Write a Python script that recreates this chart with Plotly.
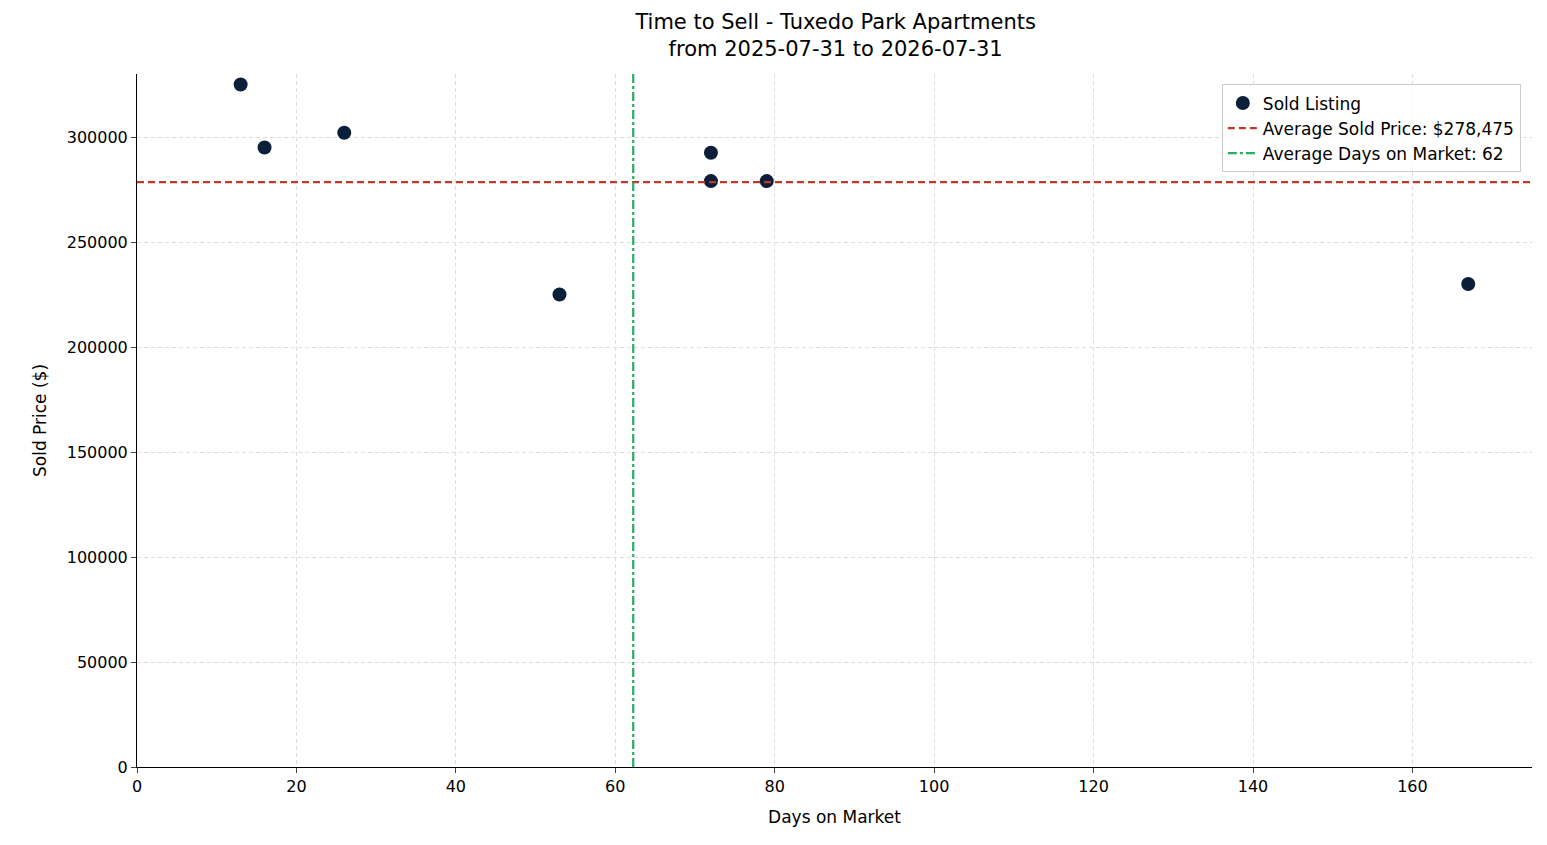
import plotly.graph_objects as go

days = [13, 16, 26, 53, 72, 72, 79, 167]
prices = [325000, 295000, 302000, 225000, 292500, 279000, 279000, 230000]
avg_price = 278475
avg_days = 62.25
x_ticks = [0, 20, 40, 60, 80, 100, 120, 140, 160]
y_ticks = [0, 50000, 100000, 150000, 200000, 250000, 300000]

fig = go.Figure()
fig.add_trace(go.Scatter(x=days, y=prices, mode="markers", name="Sold Listing",
                         marker=dict(color="#0b1f3a", size=14)))
fig.add_trace(go.Scatter(x=[0, 175], y=[avg_price, avg_price], mode="lines",
                         name="Average Sold Price: $278,475",
                         line=dict(color="#c0392b", width=2.2, dash="7px,4px")))
fig.add_trace(go.Scatter(x=[avg_days, avg_days], y=[0, 330000], mode="lines",
                         name="Average Days on Market: 62",
                         line=dict(color="#27ae60", width=2.2, dash="dashdot")))

font = "DejaVu Sans"
fig.update_layout(
    width=1547, height=845, paper_bgcolor="white", plot_bgcolor="white",
    margin=dict(l=129, r=23, t=66, b=86),
    font=dict(family=font, size=16, color="black"),
    title=dict(text="Time to Sell - Tuxedo Park Apartments<br>from 2025-07-31 to 2026-07-31",
               x=0.535, xanchor="center", y=0.975, yanchor="top", font=dict(size=21)),
    legend=dict(x=0.992, xanchor="right", y=0.985, yanchor="top",
                bordercolor="#cccccc", borderwidth=1, bgcolor="rgba(255,255,255,0.8)",
                font=dict(size=17)),
    xaxis=dict(title=dict(text="Days on Market", font=dict(size=17)), range=[0, 175],
               tickvals=x_ticks, showgrid=True, gridcolor="#dddddd", griddash="4px,3px",
               showline=True, linecolor="black", ticks="outside", zeroline=False,
               tickfont=dict(size=16)),
    yaxis=dict(title=dict(text="Sold Price ($)", font=dict(size=17)), range=[0, 330000],
               tickvals=y_ticks, tickformat="d", showgrid=True, gridcolor="#dddddd",
               griddash="4px,3px", showline=True, linecolor="black", ticks="outside",
               zeroline=False, tickfont=dict(size=16)),
)
fig.write_html("out.html")
